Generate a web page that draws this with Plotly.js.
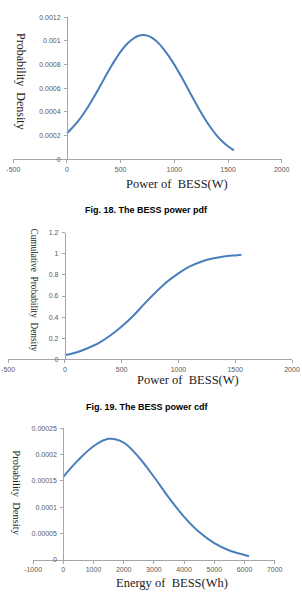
<!DOCTYPE html>
<html>
<head>
<meta charset="utf-8">
<script src="https://cdn.plot.ly/plotly-3.0.1.min.js"></script>
<style>
  html, body { margin: 0; padding: 0; background: #fff; }
  #chart { width: 302px; height: 597px; }
</style>
</head>
<body>
<div id="chart"></div>
<script>
// Fig. 18 - BESS power probability density
const powerW = [0, 50, 100, 150, 200, 250, 300, 350, 400, 450, 500, 550, 600, 650, 700, 750, 800, 850, 900, 950,
                1000, 1050, 1100, 1150, 1200, 1250, 1300, 1350, 1400, 1450, 1500, 1555];
const powerPdf = [0.000220, 0.000267, 0.000318, 0.000380, 0.000448, 0.000525, 0.000605, 0.000687, 0.000767, 0.000842,
                  0.000910, 0.000966, 0.001008, 0.001038, 0.001050, 0.001045, 0.001022, 0.000984, 0.000932, 0.000870,
                  0.000800, 0.000722, 0.000640, 0.000556, 0.000474, 0.000394, 0.000320, 0.000254, 0.000196, 0.000148,
                  0.000110, 0.000075];

// Fig. 19 - BESS power cumulative distribution
const powerCdfX = [0, 100, 200, 300, 400, 500, 600, 700, 800, 900, 1000, 1100, 1200, 1300, 1400, 1500, 1555];
const powerCdf = [0.04, 0.065, 0.105, 0.155, 0.225, 0.31, 0.41, 0.525, 0.635, 0.735, 0.815, 0.88, 0.925, 0.955, 0.975, 0.985, 0.99];

// BESS energy probability density
const energyWh = [0, 500, 1000, 1500, 2000, 2500, 3000, 3500, 4000, 4500, 5000, 5500, 6000, 6150];
const energyPdf = [0.000158, 0.000190, 0.000216, 0.000230, 0.000223, 0.000195, 0.000158, 0.000118, 0.000082,
                   0.000053, 0.000032, 0.000018, 0.0000095, 0.000007];

// Tick values and labels
const powerTicks = [-500, 0, 500, 1000, 1500, 2000];
const powerTickText = ['-500', '0', '500', '1000', '1500', '2000'];
const energyTicks = [-1000, 0, 1000, 2000, 3000, 4000, 5000, 6000, 7000];
const energyTickText = ['-1000', '0', '1000', '2000', '3000', '4000', '5000', '6000', '7000'];
const pdfTicks = [0, 0.0002, 0.0004, 0.0006, 0.0008, 0.001, 0.0012];
const pdfTickText = ['0', '0.0002', '0.0004', '0.0006', '0.0008', '0.001', '0.0012'];
const cdfTicks = [0, 0.2, 0.4, 0.6, 0.8, 1, 1.2];
const cdfTickText = ['0', '0.2', '0.4', '0.6', '0.8', '1', '1.2'];
const ePdfTicks = [0, 0.00005, 0.0001, 0.00015, 0.0002, 0.00025];
const ePdfTickText = ['0', '0.00005', '0.0001', '0.00015', '0.0002', '0.00025'];

const W = 302, H = 597;
const px = v => v / W;
const py = v => (H - v) / H;

const lineColor = '#4a7ebb';
const axisColor = '#a6a6a6';
const tickFont = { family: 'Liberation Sans, Arial, sans-serif', size: 7, color: '#595959' };
const titleFont = { family: 'Liberation Serif, Times New Roman, serif', size: 12.5, color: '#222' };

// plot boxes in pixels: [left, right, bottom, top]
const boxes = [
  [13.3, 281.7, 159.3, 17.3],
  [8.1, 292.0, 359.3, 232.7],
  [33.1, 274.7, 560.0, 428.3]
];
const xRanges = [[-500, 2000], [-500, 2000], [-1000, 7000]];
const yRanges = [[0, 0.0012], [0, 1.2], [0, 0.00025]];

function xAxis(i, ticks, text) {
  const b = boxes[i];
  return {
    domain: [px(b[0]), px(b[1])],
    range: xRanges[i],
    anchor: i === 0 ? 'y' : 'y' + (i + 1),
    tickmode: 'array', tickvals: ticks, ticktext: text,
    showline: true, linecolor: axisColor, linewidth: 1,
    ticks: 'outside', ticklen: 3, tickcolor: axisColor, tickwidth: 1,
    showgrid: false, zeroline: false,
    tickfont: tickFont, fixedrange: true
  };
}
function yAxis(i, ticks, text) {
  const b = boxes[i];
  const r = xRanges[i];
  const zeroPx = b[0] + (0 - r[0]) / (r[1] - r[0]) * (b[1] - b[0]);
  return {
    domain: [py(b[2]), py(b[3])],
    range: yRanges[i],
    anchor: 'free', position: px(zeroPx),
    tickmode: 'array', tickvals: ticks, ticktext: text,
    showline: true, linecolor: axisColor, linewidth: 1,
    ticks: 'outside', ticklen: 3, tickcolor: axisColor, tickwidth: 1,
    showgrid: false, zeroline: false,
    tickfont: tickFont, ticklabelstandoff: 2, fixedrange: true
  };
}

const traces = [
  { x: powerW, y: powerPdf, xaxis: 'x', yaxis: 'y' },
  { x: powerCdfX, y: powerCdf, xaxis: 'x2', yaxis: 'y2' },
  { x: energyWh, y: energyPdf, xaxis: 'x3', yaxis: 'y3' }
].map(t => Object.assign(t, {
  type: 'scatter', mode: 'lines', hoverinfo: 'skip',
  line: { color: lineColor, width: 2, shape: 'spline', smoothing: 1 }
}));

function label(text, x, y, angle, font) {
  return { text: text, x: px(x), y: py(y), xref: 'paper', yref: 'paper',
           showarrow: false, textangle: angle, font: font,
           xanchor: 'center', yanchor: 'middle' };
}
const captionFont = { family: 'Liberation Sans, Arial, sans-serif', size: 9, color: '#000', weight: 'bold' };

const layout = {
  width: W, height: H,
  margin: { l: 0, r: 0, t: 0, b: 0 },
  paper_bgcolor: '#fff', plot_bgcolor: '#fff',
  showlegend: false,
  xaxis: xAxis(0, powerTicks, powerTickText),
  yaxis: yAxis(0, pdfTicks, pdfTickText),
  xaxis2: xAxis(1, powerTicks, powerTickText),
  yaxis2: yAxis(1, cdfTicks, cdfTickText),
  xaxis3: xAxis(2, energyTicks, energyTickText),
  yaxis3: yAxis(2, ePdfTicks, ePdfTickText),
  annotations: [
    label('Power of&nbsp; BESS(W)', 177, 184, 0, titleFont),
    label('Probability&nbsp; Density', 21.7, 81.7, 90, Object.assign({}, titleFont, { size: 12 })),
    label('<b>Fig. 18. The BESS power pdf</b>', 146.7, 210, 0, captionFont),
    label('Power of&nbsp; BESS(W)', 188, 380, 0, titleFont),
    label('Cumulative&nbsp; Probability&nbsp; Density', 33.5, 290, 90, Object.assign({}, titleFont, { size: 9.3 })),
    label('<b>Fig. 19. The BESS power cdf</b>', 147, 406.7, 0, captionFont),
    label('Energy of&nbsp; BESS(Wh)', 171.7, 582.7, 0, titleFont),
    label('Probability&nbsp; Density', 16.7, 493, 90, Object.assign({}, titleFont, { size: 10.5 }))
  ]
};

Plotly.newPlot('chart', traces, layout, { displayModeBar: false, staticPlot: true });
</script>
</body>
</html>
